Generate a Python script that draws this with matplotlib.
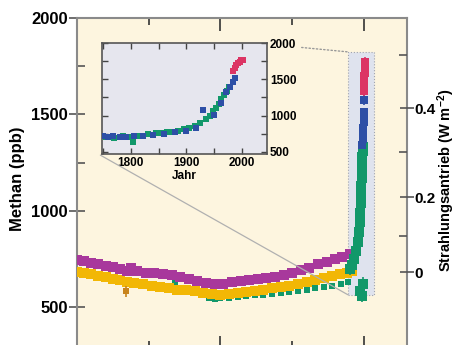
import numpy as np
import matplotlib.pyplot as plt
from matplotlib.patches import Rectangle, ConnectionPatch

# ---------------------------------------------------------------------------
# Fonts
# ---------------------------------------------------------------------------
plt.rcParams["font.family"] = ["Liberation Sans", "DejaVu Sans"]
plt.rcParams["font.weight"] = "bold"
plt.rcParams["mathtext.fontset"] = "custom"
plt.rcParams["mathtext.rm"] = "Liberation Sans:bold"
plt.rcParams["mathtext.default"] = "rm"

# ---------------------------------------------------------------------------
# Data
# ---------------------------------------------------------------------------
# Main panel, last 1000 years
magenta_yr  = [1000, 1025, 1050, 1075, 1100, 1125, 1150, 1175, 1190, 1210, 1240, 1270,
               1300, 1330, 1360, 1390, 1420, 1450, 1480, 1510, 1540, 1570, 1600, 1630,
               1660, 1690, 1720, 1750, 1780, 1810, 1840, 1870, 1900, 1925, 1950]
magenta_ppb = [745, 740, 732, 722, 716, 708, 700, 690, 705, 688, 680, 676,
               672, 668, 658, 648, 636, 626, 618, 622, 630, 634, 640, 645,
               650, 658, 668, 680, 692, 706, 722, 736, 748, 760, 778]

orange_yr  = [1000, 1025, 1050, 1075, 1100, 1125, 1150, 1175, 1200, 1230, 1260, 1290,
              1320, 1350, 1380, 1410, 1440, 1470, 1500, 1530, 1560, 1590, 1620, 1650,
              1680, 1710, 1740, 1770, 1800, 1830, 1860, 1890, 1915, 1940, 1960]
orange_ppb = [684, 678, 672, 664, 656, 648, 640, 632, 625, 618, 610, 604,
              598, 592, 588, 582, 576, 570, 566, 570, 574, 580, 586, 592,
              598, 604, 612, 620, 630, 640, 652, 664, 672, 680, 690]

outlier_yr  = [1172]
outlier_ppb = [582]

green_yr  = [1340, 1460, 1480, 1500, 1530, 1560, 1590, 1620, 1650, 1680, 1710, 1740,
             1770, 1800, 1830, 1860, 1890, 1920, 1945]
green_ppb = [630, 546, 544, 546, 550, 554, 558, 562, 566, 570, 575, 580,
             586, 592, 598, 604, 612, 620, 632]

# The steep rise at the right end of the main panel
spike_green_yr  = [1950, 1958, 1965, 1972, 1978, 1983, 1986, 1988, 1989, 1990, 1991, 1992,
                   1993, 1994, 1995, 1996, 1997, 1985, 1992, 1998]
spike_green_ppb = [700, 720, 750, 790, 840, 890, 940, 990, 1040, 1090, 1130, 1170,
                   1210, 1250, 1280, 1310, 1330, 585, 560, 620]
spike_blue_yr   = [1995, 1996, 1997, 1998, 1999, 2000, 2001, 1999]
spike_blue_ppb  = [1340, 1370, 1400, 1430, 1460, 1490, 1510, 1575]
spike_red_yr    = [2000, 2001, 2001, 2002, 2002, 2003, 2003, 2004, 2004]
spike_red_ppb   = [1620, 1640, 1660, 1680, 1700, 1715, 1730, 1750, 1770]

# Inset, 1750 - 2000
in_blue_yr  = [1750, 1758, 1768, 1780, 1792, 1805, 1822, 1840, 1860, 1880, 1900, 1918,
               1930, 1950, 1962, 1972, 1978, 1983, 1987]
in_blue_ppb = [715, 700, 712, 705, 698, 718, 722, 735, 748, 770, 790, 830,
               1080, 1010, 1180, 1330, 1400, 1460, 1520]
in_green_yr  = [1755, 1770, 1785, 1800, 1803, 1815, 1830, 1845, 1855, 1865, 1875, 1885,
                1895, 1905, 1915, 1925, 1935, 1942, 1948, 1953, 1958, 1963, 1968, 1973, 1977]
in_green_ppb = [700, 690, 720, 710, 640, 715, 740, 760, 755, 770, 780, 790,
                810, 830, 860, 900, 950, 1000, 1060, 1110, 1160, 1230, 1290, 1340, 1390]
in_red_yr  = [1984, 1987, 1990, 1993, 1996, 1999, 2001]
in_red_ppb = [1620, 1660, 1700, 1720, 1740, 1760, 1770]

# Right axis: radiative forcing ticks (position in ppb on the left scale)
rf_major_pos    = [682, 1071, 1533]
rf_major_labels = ["0", "0.2", "0.4"]
rf_minor_pos    = [869, 1305, 1808]

# ---------------------------------------------------------------------------
# Colours
# ---------------------------------------------------------------------------
C_MAG   = "#a8389c"
C_ORA   = "#f2b705"
C_GRN   = "#12986a"
C_BLU   = "#2d4fa6"
C_RED   = "#dc3464"
C_SPINE = "#8a8a8a"

fig = plt.figure(figsize=(4.58, 3.45), dpi=100)
ax = fig.add_axes([0.168, -0.008, 0.7205, 0.956])
ax.set_facecolor("#fdf5df")

def band(a, x, y, color, yerr=18, ms=4.6, z=3):
    a.errorbar(x, y, yerr=yerr, fmt="s", ms=ms, mew=0, color=color,
               ecolor=color, elinewidth=1.2, capsize=2, zorder=z)

band(ax, green_yr, green_ppb, C_GRN, yerr=14, ms=5, z=2)
band(ax, orange_yr, orange_ppb, C_ORA, yerr=22, ms=6.5, z=3)
band(ax, magenta_yr, magenta_ppb, C_MAG, yerr=20, ms=6.5, z=4)
band(ax, outlier_yr, outlier_ppb, "#c8841c", yerr=30, ms=4.5, z=5)

# zoom box around the recent rise
ax.add_patch(Rectangle((1944, 565), 91, 1259, facecolor="#dfe3ee",
                       edgecolor="#a0a4b0", linestyle=":", linewidth=0.8, zorder=1))
band(ax, spike_green_yr, spike_green_ppb, C_GRN, yerr=35, ms=6.5, z=5)
band(ax, spike_blue_yr, spike_blue_ppb, C_BLU, yerr=25, ms=6, z=5)
band(ax, spike_red_yr, spike_red_ppb, C_RED, yerr=25, ms=6, z=5)

ax.set_xlim(1000, 2150)
ax.set_ylim(290, 2000)
ax.set_xticks([1500, 2000])
ax.set_xticks([1250, 1750], minor=True)
ax.set_yticks([500, 1000, 1500, 2000])
ax.set_yticks([750, 1250, 1750], minor=True)
ax.tick_params(axis="x", which="both", direction="in", top=True, bottom=True,
               labelbottom=False, color="#333333", width=1.2)
ax.tick_params(axis="x", which="major", length=9)
ax.tick_params(axis="x", which="minor", length=5)
ax.tick_params(axis="y", which="major", direction="inout", length=11, width=1.2,
               color="#555555", labelsize=12, pad=1)
ax.tick_params(axis="y", which="minor", direction="in", length=6, width=1.2, color="#555555")
for sp in ax.spines.values():
    sp.set_color(C_SPINE)
    sp.set_linewidth(1.5)

# right axis
ax2 = ax.twinx()
ax2.set_ylim(ax.get_ylim())
ax2.set_yticks(rf_major_pos)
ax2.set_yticklabels(rf_major_labels)
ax2.set_yticks(rf_minor_pos, minor=True)
ax2.tick_params(axis="y", which="major", direction="inout", length=10, width=1.2,
                color="#555555", labelsize=11, pad=0)
ax2.tick_params(axis="y", which="minor", direction="in", length=6, width=1.2, color="#555555")
for sp in ax2.spines.values():
    sp.set_visible(False)

fig.text(0.038, 0.481, "Methan (ppb)", rotation=90, ha="center", va="center",
         fontsize=12, fontweight="bold")
fig.text(0.974, 0.478, "Strahlungsantrieb (W m$^{-2}$)", rotation=90, ha="center",
         va="center", fontsize=10.5, fontweight="bold")

# ---------------------------------------------------------------------------
# Inset
# ---------------------------------------------------------------------------
ins = fig.add_axes([0.2227, 0.5536, 0.3603, 0.3217])
ins.set_facecolor("#e6e6ee")
band(ins, in_green_yr, in_green_ppb, C_GRN, yerr=35, ms=4, z=3)
band(ins, in_blue_yr, in_blue_ppb, C_BLU, yerr=20, ms=4, z=4)
band(ins, in_red_yr, in_red_ppb, C_RED, yerr=25, ms=4, z=4)
ins.set_xlim(1748, 2045)
ins.set_ylim(470, 2000)
ins.set_xticks([1800, 1900, 2000])
ins.set_xticks([1750, 1850, 1950], minor=True)
ins.set_yticks([500, 1000, 1500, 2000])
ins.set_yticks([750, 1250, 1750], minor=True)
ins.tick_params(axis="both", which="both", direction="in", top=True, right=True,
                left=True, labelleft=False, labelright=True, length=4, width=1,
                color="#444444", labelsize=8.5, pad=2)
ins.set_xlabel("Jahr", fontsize=8.5, fontweight="bold", labelpad=1)
for sp in ins.spines.values():
    sp.set_color("#555555")
    sp.set_linewidth(1.2)

# lines joining the inset to the zoom box
con1 = ConnectionPatch(xyA=(1.21, 0.96), coordsA=ins.transAxes,
                       xyB=(1944, 1824), coordsB=ax.transData,
                       linestyle=":", color="#999999", linewidth=1)
con2 = ConnectionPatch(xyA=(-0.01, -0.01), coordsA=ins.transAxes,
                       xyB=(1944, 565), coordsB=ax.transData,
                       color="#b0b0b0", linewidth=0.9)
fig.add_artist(con1)
fig.add_artist(con2)

plt.savefig("out.png", dpi=100)
